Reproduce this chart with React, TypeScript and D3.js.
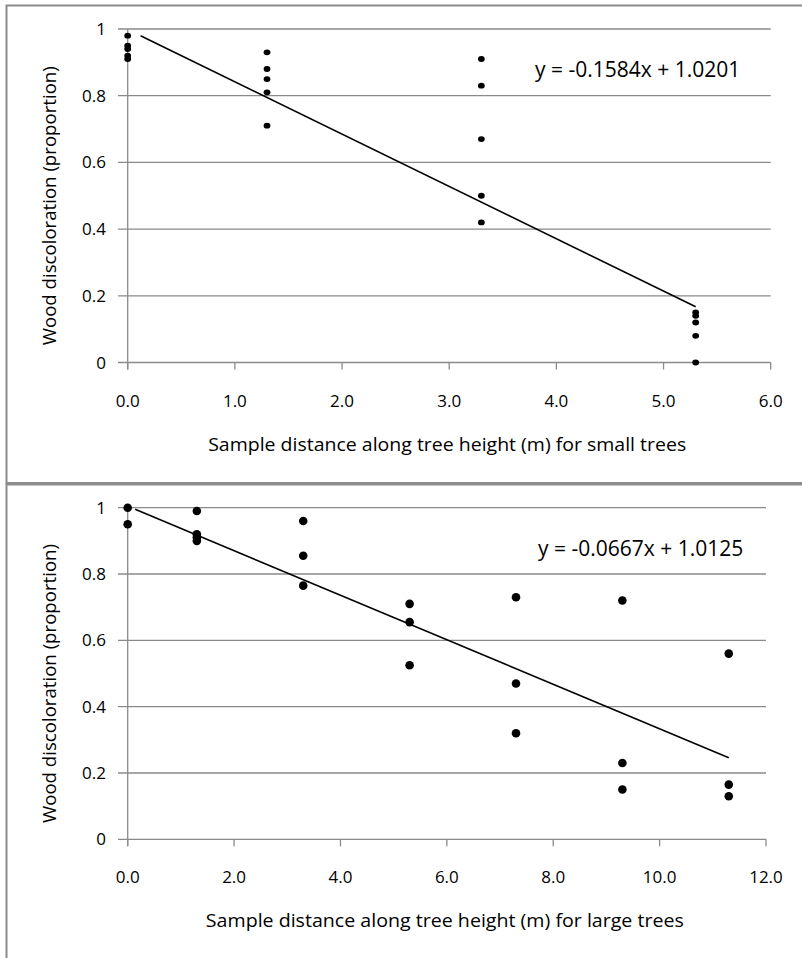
import React, { useEffect, useRef } from 'react'
import * as d3 from 'd3'

// small trees
const smallDistance = [0, 0, 0, 0, 0, 1.3, 1.3, 1.3, 1.3, 1.3, 3.3, 3.3, 3.3, 3.3, 3.3, 5.3, 5.3, 5.3, 5.3, 5.3]
const smallDiscoloration = [0.98, 0.95, 0.94, 0.92, 0.91, 0.93, 0.88, 0.85, 0.81, 0.71, 0.91, 0.83, 0.67, 0.5, 0.42, 0.15, 0.14, 0.12, 0.08, 0.0]
const smallTrendX = [0.12, 5.3]
const smallTrendY = [0.98, 0.167]
const smallXTicks = [0, 1, 2, 3, 4, 5, 6]

// large trees
const largeDistance = [0, 0, 1.3, 1.3, 1.3, 1.3, 3.3, 3.3, 3.3, 5.3, 5.3, 5.3, 7.3, 7.3, 7.3, 9.3, 9.3, 9.3, 11.3, 11.3, 11.3]
const largeDiscoloration = [1.0, 0.95, 0.99, 0.92, 0.91, 0.9, 0.96, 0.855, 0.765, 0.71, 0.655, 0.525, 0.73, 0.47, 0.32, 0.72, 0.23, 0.15, 0.56, 0.165, 0.13]
const largeTrendX = [0.14, 11.3]
const largeTrendY = [0.995, 0.246]
const largeXTicks = [0, 2, 4, 6, 8, 10, 12]

const yTicks = [0, 0.2, 0.4, 0.6, 0.8, 1]

const FONT = "'Open Sans', sans-serif"
const GRID = '#8a8a8a'

const drawPanel = (svg, o) => {
  const x = d3.scaleLinear().domain([0, o.xMax]).range([127.7, o.right])
  const y = d3.scaleLinear().domain([0, 1]).range([o.bottom, o.top])
  const g = svg.append('g')

  // gridlines
  g.selectAll('.grid')
    .data(yTicks)
    .join('line')
    .attr('x1', 118)
    .attr('x2', o.right)
    .attr('y1', d => y(d))
    .attr('y2', d => y(d))
    .attr('stroke', GRID)
    .attr('stroke-width', 1.3)

  // y axis line
  g.append('line')
    .attr('x1', x(0)).attr('x2', x(0))
    .attr('y1', y(1)).attr('y2', y(0) + 7)
    .attr('stroke', GRID).attr('stroke-width', 1.3)

  // x ticks
  g.selectAll('.xtick')
    .data(o.xTicks)
    .join('line')
    .attr('x1', d => x(d)).attr('x2', d => x(d))
    .attr('y1', y(0)).attr('y2', y(0) + 7)
    .attr('stroke', GRID).attr('stroke-width', 1.3)

  g.selectAll('.xlab')
    .data(o.xTicks)
    .join('text')
    .attr('x', d => x(d))
    .attr('y', y(0) + 44)
    .attr('text-anchor', 'middle')
    .attr('font-family', FONT)
    .attr('font-size', 17)
    .text(d => d3.format('.1f')(d))

  g.selectAll('.ylab')
    .data(yTicks)
    .join('text')
    .attr('x', 106)
    .attr('y', d => y(d) + 6)
    .attr('text-anchor', 'end')
    .attr('font-family', FONT)
    .attr('font-size', 17)
    .text(d => String(d))

  // axis titles
  g.append('text')
    .attr('x', (x(0) + o.right) / 2 - 2)
    .attr('y', y(0) + 88)
    .attr('text-anchor', 'middle')
    .attr('font-family', FONT)
    .attr('font-size', 18.5)
    .attr('textLength', 478)
    .attr('lengthAdjust', 'spacingAndGlyphs')
    .text(o.title)

  g.append('text')
    .attr('transform', `translate(56, ${(o.top + o.bottom) / 2 + 10}) rotate(-90)`)
    .attr('text-anchor', 'middle')
    .attr('font-family', FONT)
    .attr('font-size', 18.5)
    .attr('textLength', 279)
    .attr('lengthAdjust', 'spacingAndGlyphs')
    .text('Wood discoloration  (proportion)')

  // trend line
  const line = d3.line().x(d => x(d[0])).y(d => y(d[1]))
  g.append('path')
    .attr('d', line(d3.zip(o.trendX, o.trendY)))
    .attr('fill', 'none')
    .attr('stroke', '#000')
    .attr('stroke-width', 1.6)

  g.append('text')
    .attr('x', o.eqX)
    .attr('y', o.top + 48)
    .attr('font-family', FONT)
    .attr('font-size', 21)
    .text(o.equation)

  // points
  g.selectAll('.pt')
    .data(d3.zip(o.xs, o.ys))
    .join('ellipse')
    .attr('cx', d => x(d[0]))
    .attr('cy', d => y(d[1]))
    .attr('rx', o.rx)
    .attr('ry', o.ry)
    .attr('fill', '#000')
}

const App = () => {
  const svgRef = useRef(null)

  useEffect(() => {
    const svg = d3.select(svgRef.current)
    svg.selectAll('*').remove()

    svg.append('rect')
      .attr('x', 0).attr('y', 0).attr('width', 802).attr('height', 958)
      .attr('fill', '#fff')

    // chart frames
    svg.append('rect')
      .attr('x', 6.5).attr('y', 5.5).attr('width', 820).attr('height', 477.5)
      .attr('fill', 'none').attr('stroke', '#8c8c8c').attr('stroke-width', 2)
    svg.append('rect')
      .attr('x', 6.5).attr('y', 484.5).attr('width', 820).attr('height', 500)
      .attr('fill', 'none').attr('stroke', '#8c8c8c').attr('stroke-width', 2)

    drawPanel(svg, {
      top: 29, bottom: 362.5, right: 770.7, xMax: 6, xTicks: smallXTicks,
      xs: smallDistance, ys: smallDiscoloration,
      trendX: smallTrendX, trendY: smallTrendY,
      equation: 'y = -0.1584x + 1.0201', eqX: 535,
      title: 'Sample distance along tree height (m) for small trees',
      rx: 3.4, ry: 2.9,
    })

    drawPanel(svg, {
      top: 507.7, bottom: 839.3, right: 766, xMax: 12, xTicks: largeXTicks,
      xs: largeDistance, ys: largeDiscoloration,
      trendX: largeTrendX, trendY: largeTrendY,
      equation: 'y = -0.0667x + 1.0125', eqX: 538,
      title: 'Sample distance along tree height (m) for large trees',
      rx: 4.3, ry: 4.3,
    })
  }, [])

  return (
    <svg
      ref={svgRef}
      width={802}
      height={958}
      style={{ position: 'absolute', left: 0, top: 0, display: 'block' }}
    />
  )
}

export default App
